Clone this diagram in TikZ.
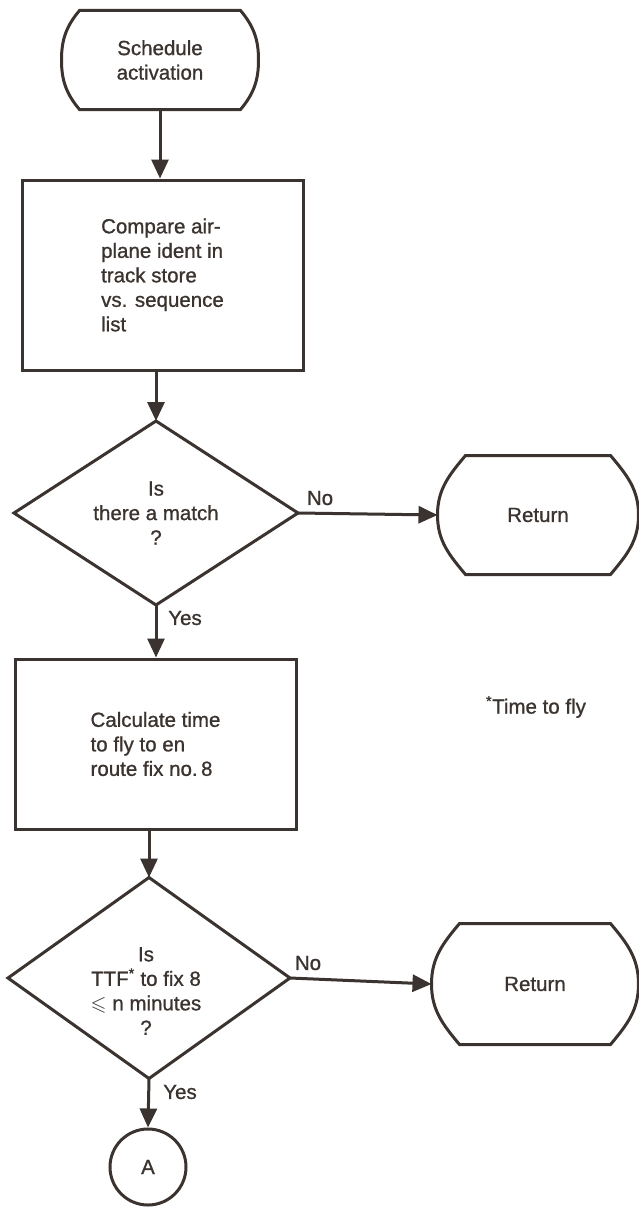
\documentclass[tikz,border=0pt]{standalone}
\usepackage{amsmath}
\usepackage{amssymb}
\usepackage{fontspec}
\setmainfont{Liberation Sans}[FakeBold=0.9]
\usetikzlibrary{arrows.meta}
\definecolor{ink}{RGB}{58,51,47}

% outline of a terminal symbol: flat top and bottom, bulging sides
\newcommand{\drawterm}[2]{%
  \draw[outline] (#1.west) to[out=90,in=-130] ([xshift=#2]#1.north west)
    -- ([xshift=-#2]#1.north east) to[out=-50,in=90] (#1.east)
    to[out=-90,in=50] ([xshift=-#2]#1.south east)
    -- ([xshift=#2]#1.south west) to[out=130,in=-90] (#1.west) -- cycle;}

\begin{document}
\begin{tikzpicture}[x=1pt,y=1pt, line width=3pt, color=ink,
  font=\fontsize{20.5}{24.5}\selectfont,
  flow/.style={draw=ink, -{Triangle[length=19pt,width=17pt]}},
  box/.style={draw=ink, rectangle, inner sep=0pt, align=left},
  shapebox/.style={rectangle, inner sep=0pt, align=center},
  outline/.style={draw=ink},
  lbl/.style={inner sep=0pt}
]
\fill[white] (0,0) rectangle (639,-1207);
\useasboundingbox (0,0) rectangle (639,-1207);

% start terminal
\node[shapebox, minimum width=194pt, minimum height=96pt] (start) at (160,-60) {Schedule\\activation};
\drawterm{start}{18pt}

% process: compare idents
\node[box, minimum width=281pt, minimum height=190pt] (box1) at (162.5,-275) {Compare air-\\plane ident in\\track store\\vs. sequence\\list};

% decision: match?
\node[shapebox, minimum width=281pt, minimum height=181pt] (d1) at (156,-513) {Is\\there a match\\?};
\draw[outline] (d1.north) -- (d1.east) -- (d1.south) -- (d1.west) -- cycle;

% return terminal (no match)
\node[shapebox, minimum width=198pt, minimum height=116pt] (ret1) at (538,-515) {Return};
\drawterm{ret1}{28pt}

% process: time to fly
\node[box, minimum width=281pt, minimum height=170pt] (box2) at (155.5,-744) {Calculate time\\to fly to en\\route fix no.\,8};

% decision: TTF within limit?
\node[shapebox, minimum width=279pt, minimum height=198pt] (d2) at (149,-978) {};
\draw[outline] (d2.north) -- (d2.east) -- (d2.south) -- (d2.west) -- cycle;
\node[shapebox] (d2text) at (146,-991) {Is\\TTF\textsuperscript{*} to fix 8\\$\boldsymbol{\leqslant}$ n minutes\\?};

% return terminal (too far out)
\node[shapebox, minimum width=204pt, minimum height=118pt] (ret2) at (535,-984) {Return};
\drawterm{ret2}{28pt}

% off-page connector
\node[draw=ink, circle, minimum size=76pt, inner sep=0pt] (A) at (148,-1167) {A};

% footnote
\node[lbl] (note) at (536,-707) {\textsuperscript{*}Time to fly};

% connectors
\draw[flow] (start.south) -- (start.south |- box1.north);
\draw[flow] (d1.north |- box1.south) -- (d1.north);
\draw[flow] (d1.east) -- (ret1.west);
\draw[flow] (d1.south) -- (d1.south |- box2.north);
\draw[flow] (d2.north |- box2.south) -- (d2.north);
\draw[flow] (d2.east) -- (ret2.west);
\draw[flow] (d2.south) -- (A.north);

% branch labels
\node[lbl] (no1) at (320,-498) {No};
\node[lbl] (yes1) at (185,-618) {Yes};
\node[lbl] (no2) at (308,-963) {No};
\node[lbl] (yes2) at (180,-1092) {Yes};
\end{tikzpicture}
\end{document}
